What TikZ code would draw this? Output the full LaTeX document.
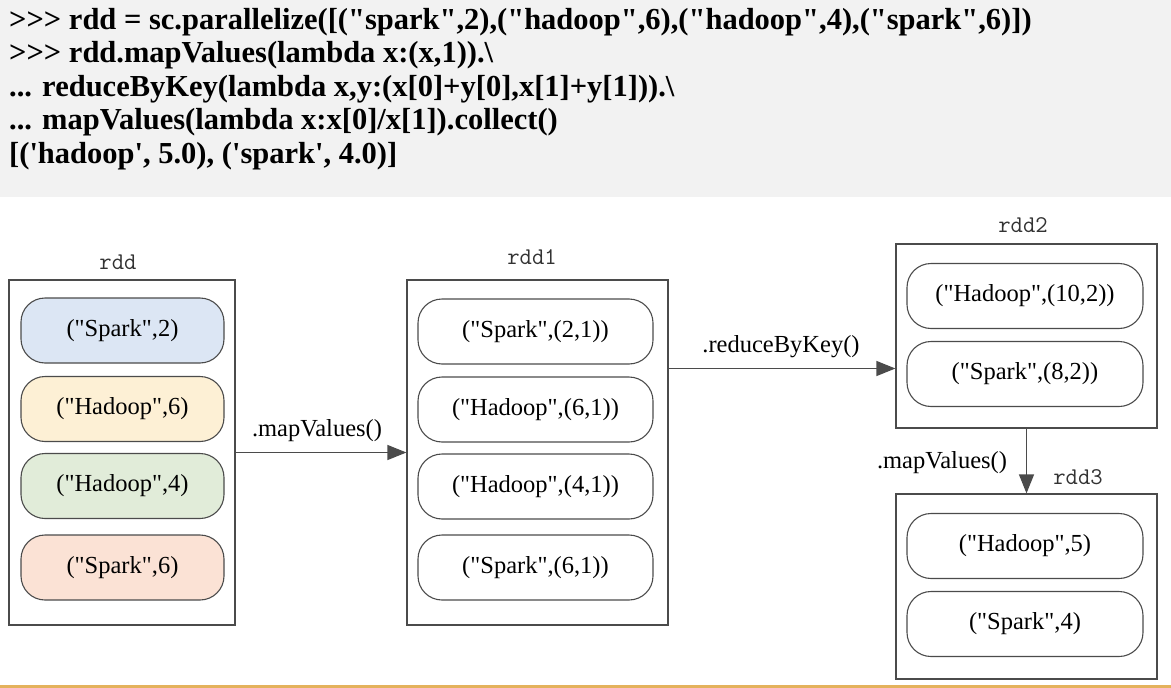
\documentclass[tikz,border=0pt]{standalone}
\usepackage{fontspec}
\setmainfont{Liberation Serif}
\newfontfamily\codefont{Liberation Serif}
\usetikzlibrary{arrows.meta, positioning}
\definecolor{codebg}{RGB}{242,242,242}
\definecolor{edge}{RGB}{75,75,75}
\definecolor{cblue}{RGB}{220,230,244}
\definecolor{cyellow}{RGB}{253,240,213}
\definecolor{cgreen}{RGB}{225,236,217}
\definecolor{csalmon}{RGB}{251,226,213}
\definecolor{rule}{RGB}{228,178,92}

\begin{document}
\begin{tikzpicture}[x=1pt,y=-1pt,
  rddbox/.style={draw=edge,line width=1.2pt,rectangle,inner sep=0pt},
  item/.style={draw=edge,line width=1.1pt,rounded corners=24pt,minimum height=65pt,
    inner sep=0pt,font=\codefont\fontsize{24.5}{28}\selectfont},
  lbl/.style={font=\ttfamily\fontsize{24}{26}\selectfont,text=black!80,inner sep=0pt},
  op/.style={font=\codefont\fontsize{24.5}{28}\selectfont,inner sep=0pt},
  code/.style={font=\codefont\bfseries\fontsize{30.5}{32}\selectfont,anchor=west,inner sep=0pt},
  flow/.style={draw=edge,line width=1.2pt,-{Triangle[length=19pt,width=15pt]}}]
  \useasboundingbox (0,0) rectangle (1171,688);

  % code block
  \fill[codebg] (0,0) rectangle (1171,197);
  \node[code] (l1) at (9,22)  {>>> rdd = sc.parallelize([("spark",2),("hadoop",6),("hadoop",4),("spark",6)])};
  \node[code] (l2) at (9,55)  {>>> rdd.mapValues(lambda x:(x,1)).\textbackslash};
  \node[code] (l3) at (9,89)  {... reduceByKey(lambda x,y:(x[0]+y[0],x[1]+y[1])).\textbackslash};
  \node[code] (l4) at (9,122) {... mapValues(lambda x:x[0]/x[1]).collect()};
  \node[code] (l5) at (9,156) {[('hadoop', 5.0), ('spark', 4.0)]};
  \fill[rule] (0,685) rectangle (1171,688);

  % rdd boxes
  \node[rddbox,minimum width=226pt,minimum height=345pt] (rdd)  at (122,452.5)  {};
  \node[rddbox,minimum width=261pt,minimum height=345pt] (rdd1) at (537.5,452.5) {};
  \node[rddbox,minimum width=261pt,minimum height=184pt] (rdd2) at (1026.5,336) {};
  \node[rddbox,minimum width=261pt,minimum height=185pt] (rdd3) at (1026.5,586.5) {};

  \node[lbl] (rddname)  at (118,262)  {rdd};
  \node[lbl] (rdd1name) at (532,257)  {rdd1};
  \node[lbl] (rdd2name) at (1023,225) {rdd2};
  \node[lbl] (rdd3name) at (1078,477) {rdd3};

  % elements
  \node[item,fill=cblue,minimum width=203pt]   (a1) at (122.5,330.5) {("Spark",2)};
  \node[item,fill=cyellow,minimum width=203pt] (a2) at (122.5,409)   {("Hadoop",6)};
  \node[item,fill=cgreen,minimum width=203pt]  (a3) at (122.5,486)   {("Hadoop",4)};
  \node[item,fill=csalmon,minimum width=203pt] (a4) at (122.5,567.5) {("Spark",6)};

  \node[item,minimum width=235pt] (b1) at (535.5,331.5) {("Spark",(2,1))};
  \node[item,minimum width=235pt] (b2) at (535.5,409.5) {("Hadoop",(6,1))};
  \node[item,minimum width=235pt] (b3) at (535.5,486.5) {("Hadoop",(4,1))};
  \node[item,minimum width=235pt] (b4) at (535.5,567.5) {("Spark",(6,1))};

  \node[item,minimum width=236pt] (c1) at (1025,296) {("Hadoop",(10,2))};
  \node[item,minimum width=236pt] (c2) at (1025,374) {("Spark",(8,2))};

  \node[item,minimum width=236pt] (d1) at (1025,546) {("Hadoop",5)};
  \node[item,minimum width=236pt] (d2) at (1025,624) {("Spark",4)};

  % transformations
  \draw[flow] (rdd) -- (rdd1);
  \draw[flow] ([yshift=84pt]rdd1.east) -- ([yshift=84pt]rdd1.east -| rdd2.west);
  \draw[flow] (rdd2) -- (rdd3);

  \node[op] (m1) at (317,431) {.mapValues()};
  \node[op] (m2) at (781,347) {.reduceByKey()};
  \node[op] (m3) at (942,463) {.mapValues()};
\end{tikzpicture}
\end{document}
